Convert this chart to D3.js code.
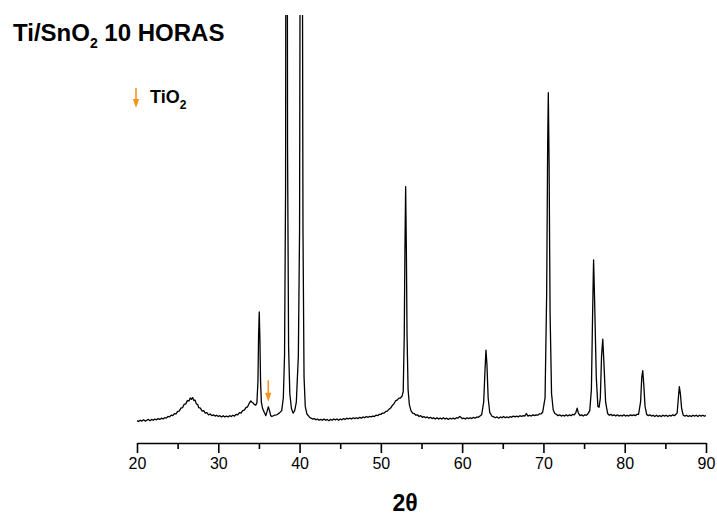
<!DOCTYPE html>
<html>
<head>
<meta charset="utf-8">
<script src="https://cdn.jsdelivr.net/npm/d3@7"></script>
<style>
  html, body { margin: 0; padding: 0; background: #fff; }
  svg { display: block; font-family: "Liberation Sans", Arial, Helvetica, sans-serif; }
</style>
</head>
<body>
<svg id="chart" width="717" height="521"></svg>
<script>
// ---- data: [2θ (deg), intensity (arbitrary counts)] ----
const pattern = [
  [20.0,46],[20.2,44],[20.4,47],[20.6,45],[20.8,48],[21.0,45],[21.2,47],[21.4,49],[21.6,46],[21.8,49],
  [22.0,47],[22.2,50],[22.4,48],[22.6,51],[22.8,49],[23.0,52],[23.2,50],[23.4,53],[23.6,52],[23.8,56],
  [24.0,55],[24.2,59],[24.4,58],[24.6,63],[24.8,62],[25.0,68],[25.2,69],[25.4,76],[25.6,77],[25.8,85],
  [26.0,86],[26.2,94],[26.4,93],[26.55,100],[26.7,97],[26.85,101],[27.0,94],[27.15,95],[27.3,86],[27.45,85],
  [27.6,77],[27.8,76],[28.0,69],[28.2,70],[28.4,64],[28.6,65],[28.8,60],[29.0,62],[29.2,58],[29.4,60],
  [29.6,57],[29.8,59],[30.0,56],[30.2,58],[30.4,55],[30.6,58],[30.8,55],[31.0,57],[31.2,55],[31.4,58],
  [31.6,56],[31.8,59],[32.0,57],[32.2,61],[32.4,60],[32.6,65],[32.8,64],[33.0,70],[33.2,71],[33.4,77],
  [33.6,79],[33.8,87],[34.0,93],[34.15,90],[34.3,88],[34.45,84],[34.6,83],[34.75,88],
  [34.88,140],[34.96,250],[35.04,305],[35.12,240],[35.2,140],[35.3,90],[35.45,75],[35.65,66],[35.85,58],
  [36.0,68],[36.15,79],[36.3,70],[36.45,58],[36.6,56],[36.9,59],[37.2,60],[37.5,64],[37.8,70],[38.0,100],
  [38.15,200],[38.28,600],[38.4,3000],[38.52,700],[38.65,220],[38.8,110],[39.0,75],[39.2,64],[39.4,70],
  [39.6,90],[39.85,200],[40.0,500],[40.1,1500],[40.2,2500],[40.3,1600],[40.42,500],[40.55,150],[40.7,80],
  [40.9,62],[41.2,55],[41.4,52],[41.6,50],[41.8,51],[42.0,48],[42.2,50],[42.4,47],[42.6,49],[42.8,47],
  [43.0,50],[43.2,47],[43.4,49],[43.6,46],[43.8,49],[44.0,47],[44.2,50],[44.4,48],[44.6,50],[44.8,47],
  [45.0,50],[45.2,48],[45.4,51],[45.6,49],[45.8,52],[46.0,50],[46.2,52],[46.4,50],[46.6,53],[46.8,51],
  [47.0,53],[47.2,51],[47.4,54],[47.6,52],[47.8,55],[48.0,53],[48.2,56],[48.4,54],[48.6,56],[48.8,55],
  [49.0,57],[49.2,56],[49.4,59],[49.6,58],[49.8,61],[50.0,61],[50.2,64],[50.4,64],[50.6,68],[50.8,69],
  [51.0,73],[51.2,76],[51.4,82],[51.6,86],[51.8,93],[52.0,95],[52.2,99],[52.4,100],[52.6,104],
  [52.75,115],[52.88,250],[52.96,450],[53.05,603],[53.14,450],[53.22,250],[53.35,120],[53.5,85],[53.7,70],
  [53.9,64],[54.1,63],[54.3,59],[54.5,60],[54.7,56],[54.9,58],[55.1,54],[55.3,56],[55.5,53],[55.7,55],
  [55.9,52],[56.1,54],[56.3,51],[56.5,53],[56.7,50],[56.9,53],[57.1,50],[57.3,52],[57.5,50],[57.7,53],
  [57.9,50],[58.1,52],[58.3,49],[58.5,52],[58.7,50],[58.9,52],[59.1,50],[59.3,53],[59.5,52],[59.7,56],
  [59.85,54],[60.0,51],[60.2,52],[60.4,50],[60.6,53],[60.8,51],[61.0,53],[61.2,51],[61.4,54],[61.6,52],
  [61.8,55],[62.0,54],[62.2,57],[62.4,60],[62.65,90],[62.8,160],[62.93,214],[63.05,180],[63.2,100],
  [63.4,65],[63.7,56],[63.9,55],[64.1,53],[64.3,55],[64.5,52],[64.7,55],[64.9,53],[65.1,56],[65.3,53],
  [65.5,55],[65.7,53],[65.9,56],[66.1,54],[66.3,57],[66.5,55],[66.7,57],[66.9,55],[67.1,58],[67.3,56],
  [67.5,58],[67.7,57],[67.9,63],[68.1,57],[68.3,59],[68.5,57],[68.7,60],[68.9,58],[69.1,60],[69.3,59],
  [69.5,62],[69.7,62],[69.9,66],[70.2,100],[70.4,350],[70.52,700],[70.6,827],[70.7,650],[70.82,300],
  [71.0,110],[71.2,72],[71.4,63],[71.6,61],[71.8,58],[72.0,60],[72.2,57],[72.4,59],[72.6,57],[72.8,60],
  [73.0,57],[73.2,60],[73.4,58],[73.6,61],[73.8,60],[74.0,66],[74.15,76],[74.3,64],[74.5,58],[74.7,60],
  [74.9,57],[75.1,60],[75.3,59],[75.5,63],[75.7,70],[75.9,120],[76.05,300],[76.17,429],[76.3,330],
  [76.5,150],[76.7,80],[76.85,78],[77.0,100],[77.15,200],[77.3,240],[77.45,180],[77.65,90],[77.9,63],
  [78.1,59],[78.3,61],[78.5,58],[78.7,60],[78.9,57],[79.1,60],[79.3,57],[79.5,59],[79.7,57],[79.9,60],
  [80.1,57],[80.3,59],[80.5,57],[80.7,60],[80.9,58],[81.1,60],[81.3,58],[81.5,61],[81.7,61],[81.95,90],
  [82.1,150],[82.22,165],[82.35,130],[82.5,80],[82.7,61],[82.9,58],[83.1,60],[83.3,57],[83.5,59],
  [83.7,56],[83.9,59],[84.1,56],[84.3,58],[84.5,56],[84.7,59],[84.9,57],[85.1,59],[85.3,56],[85.5,59],
  [85.7,57],[85.9,60],[86.1,58],[86.3,61],[86.45,64],[86.6,100],[86.72,127],[86.85,110],[87.0,75],
  [87.2,59],[87.4,57],[87.6,59],[87.8,56],[88.0,58],[88.2,56],[88.4,59],[88.6,57],[88.8,59],[89.0,56],
  [89.2,59],[89.4,57],[89.6,59],[89.8,57],[90.0,58]
];
const twoTheta = pattern.map(d => d[0]);
const intensity = pattern.map(d => d[1]);
const xTicks = [20, 30, 40, 50, 60, 70, 80, 90];
const xMinorTicks = [25, 35, 45, 55, 65, 75, 85];
const tio2Peaks = [36.15];
const titleMain = "Ti/SnO";
const titleSub = "2";
const titleRest = " 10 HORAS";
const legendMain = "TiO";
const legendSub = "2";
const xLabel = "2θ";
const orange = "#F7931E";

// ---- scales ----
const svg = d3.select("#chart");
const x = d3.scaleLinear().domain([20, 90]).range([137, 706]);
const y = d3.scaleLinear().domain([0, 1000]).range([440, 20]);
const axisY = 443;

svg.append("defs").append("clipPath").attr("id", "plotclip")
  .append("rect").attr("x", 0).attr("y", 15).attr("width", 717).attr("height", axisY - 15);

const line = d3.line()
  .x((d, i) => x(twoTheta[i]))
  .y((d, i) => y(intensity[i]))
  .curve(d3.curveLinear);

svg.append("path")
  .datum(intensity)
  .attr("clip-path", "url(#plotclip)")
  .attr("d", line)
  .attr("fill", "none")
  .attr("stroke", "#000")
  .attr("stroke-width", 1.3)
  .attr("stroke-linejoin", "round");

// ---- x axis ----
const axis = d3.axisBottom(x).tickValues(xTicks).tickSize(10).tickSizeOuter(0).tickPadding(5).tickFormat(d3.format("d"));
const gAxis = svg.append("g").attr("transform", `translate(0,${axisY})`).call(axis);
gAxis.select(".domain").attr("stroke", "#000").attr("stroke-width", 1.6);
gAxis.selectAll(".tick line").attr("stroke", "#000").attr("stroke-width", 1.6);
gAxis.selectAll(".tick text").attr("font-size", 16).attr("fill", "#000")
  .attr("font-family", "'Liberation Sans', Arial, sans-serif");
const minorAxis = d3.axisBottom(x).tickValues(xMinorTicks).tickSize(6).tickSizeOuter(0).tickFormat("");
const gMinor = svg.append("g").attr("transform", `translate(0,${axisY})`).call(minorAxis);
gMinor.select(".domain").remove();
gMinor.selectAll(".tick line").attr("stroke", "#000").attr("stroke-width", 1.6);

// axis title
svg.append("text").attr("x", 405).attr("y", 511).attr("text-anchor", "middle")
  .attr("font-size", 23).attr("font-weight", "bold").attr("fill", "#000").text(xLabel);

// ---- title ----
const title = svg.append("text").attr("x", 13).attr("y", 41)
  .attr("font-size", 24).attr("font-weight", "bold").attr("fill", "#000");
title.append("tspan").text(titleMain);
title.append("tspan").attr("font-size", 14).attr("dy", 7).text(titleSub);
title.append("tspan").attr("dy", -7).text(titleRest);

// ---- legend ----
function arrow(g, cx, y0, y1) {
  const headH = 9, headW = 3.2;
  g.append("line").attr("x1", cx).attr("x2", cx).attr("y1", y0).attr("y2", y1 - headH + 1)
    .attr("stroke", orange).attr("stroke-width", 1.6);
  g.append("path")
    .attr("d", `M${cx - headW},${y1 - headH} L${cx + headW},${y1 - headH} L${cx},${y1} Z`)
    .attr("fill", orange);
}
const gLeg = svg.append("g");
arrow(gLeg, 136, 88, 108);
const legText = gLeg.append("text").attr("x", 150).attr("y", 103)
  .attr("font-size", 18).attr("font-weight", "bold").attr("fill", "#000");
legText.append("tspan").text(legendMain);
legText.append("tspan").attr("font-size", 12).attr("dy", 6).text(legendSub);

// ---- TiO2 marker on the pattern ----
const gMark = svg.append("g");
tio2Peaks.forEach(p => arrow(gMark, x(p), y(142), y(91)));
</script>
</body>
</html>
